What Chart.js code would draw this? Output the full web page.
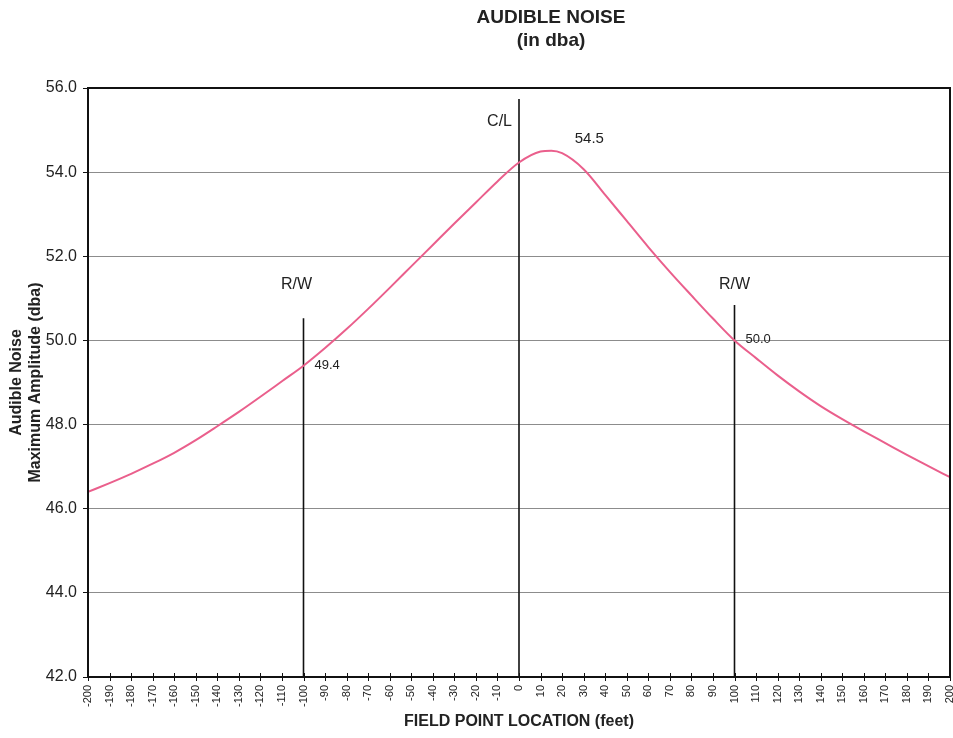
<!DOCTYPE html>
<html>
<head>
<meta charset="utf-8">
<script src="https://cdn.jsdelivr.net/npm/chart.js@4.4.0/dist/chart.umd.min.js"></script>
<style>
    body { margin: 0; background: #fff; }
    #grafico { display: block; }
</style>
</head>
<body>
<canvas id="grafico" width="953" height="738"></canvas>
<script>
    // pontos (pés, dba)
    const posicoes = [-200, -190, -180, -170, -160, -150, -140, -130, -120, -110, -100,
        -90, -80, -70, -60, -50, -40, -30, -20, -10, 0,
        10, 15, 20, 30, 40, 50, 60, 70, 80, 90, 100,
        110, 120, 130, 140, 150, 160, 170, 180, 190, 200];
    const ruido = [46.40, 46.61, 46.83, 47.07, 47.33, 47.63, 47.96, 48.30, 48.66, 49.03, 49.40,
        49.82, 50.27, 50.75, 51.25, 51.76, 52.27, 52.78, 53.28, 53.78, 54.23,
        54.49, 54.51, 54.45, 54.07, 53.46, 52.84, 52.22, 51.63, 51.07, 50.52, 50.00,
        49.58, 49.17, 48.79, 48.44, 48.13, 47.84, 47.56, 47.28, 47.01, 46.75];

    // linhas verticais (R/W e C/L)
    const linhasPos = [-100, 0, 100];
    const linhasTopo = [50.53, 55.74, 50.84];
    const linhasTexto = ['R/W', 'C/L', 'R/W'];

    // valores marcados na curva
    const marcasPos = [-100, 15, 100];
    const marcasValor = [49.4, 54.5, 50.0];
    const marcasTexto = ['49.4', '54.5', '50.0'];

    const titulo = ['AUDIBLE NOISE', '(in dba)'];
    const tituloY = ['Audible Noise', 'Maximum Amplitude (dba)'];
    const tituloX = 'FIELD POINT LOCATION (feet)';

    const corTexto = '#222';
    const fonte = '"Liberation Sans", Arial, sans-serif';

    let datasets = [{
        data: posicoes.map((x, i) => ({ x: x, y: ruido[i] })),
        borderColor: '#ea5f8c',
        borderWidth: 2,
        pointRadius: 0,
        cubicInterpolationMode: 'monotone',
        fill: false
    }];

    for (let i = 0; i < linhasPos.length; i++) {
        datasets.push({
            data: [{ x: linhasPos[i], y: 42 }, { x: linhasPos[i], y: linhasTopo[i] }],
            borderColor: '#111',
            borderWidth: 1.6,
            pointRadius: 0,
            fill: false
        });
    }

    // desenha titulos, rotulos girados do eixo x e anotacoes
    const textosExtras = {
        id: 'textosExtras',
        afterDraw(chart) {
            const ctx = chart.ctx;
            const area = chart.chartArea;
            const x = chart.scales.x;
            const y = chart.scales.y;

            ctx.save();

            // moldura
            ctx.strokeStyle = '#111';
            ctx.lineWidth = 2;
            ctx.strokeRect(area.left, area.top, area.right - area.left, area.bottom - area.top);

            // marcas do eixo x (cruzando o eixo)
            ctx.lineWidth = 1;
            x.ticks.forEach(t => {
                const px = Math.round(x.getPixelForValue(t.value)) + 0.5;
                ctx.beginPath();
                ctx.moveTo(px, area.bottom - 4);
                ctx.lineTo(px, area.bottom + 4);
                ctx.stroke();
            });

            ctx.fillStyle = corTexto;

            // rotulos do eixo x
            ctx.font = '11px ' + fonte;
            ctx.textAlign = 'right';
            ctx.textBaseline = 'middle';
            x.ticks.forEach(t => {
                const px = x.getPixelForValue(t.value);
                ctx.save();
                ctx.translate(px, area.bottom + 8);
                ctx.rotate(-Math.PI / 2);
                ctx.fillText(String(t.value), 0, 0);
                ctx.restore();
            });

            // titulo
            ctx.textAlign = 'center';
            ctx.font = 'bold 19px ' + fonte;
            ctx.fillText(titulo[0], 551, 18);
            ctx.fillText(titulo[1], 551, 41);

            // titulo eixo x
            ctx.font = 'bold 16px ' + fonte;
            ctx.fillText(tituloX, (area.left + area.right) / 2, 722);

            // titulo eixo y
            ctx.save();
            ctx.translate(17, (area.top + area.bottom) / 2);
            ctx.rotate(-Math.PI / 2);
            ctx.fillText(tituloY[0], 0, 0);
            ctx.fillText(tituloY[1], 0, 19);
            ctx.restore();

            // rotulos das linhas verticais
            const desloc = [[-7, -34, 'center'], [-7, 23, 'right'], [0, -20, 'center']];
            ctx.font = '16px ' + fonte;
            for (let i = 0; i < linhasPos.length; i++) {
                ctx.textAlign = desloc[i][2];
                ctx.fillText(linhasTexto[i],
                    x.getPixelForValue(linhasPos[i]) + desloc[i][0],
                    y.getPixelForValue(linhasTopo[i]) + desloc[i][1]);
            }

            // valores na curva
            const deslocMarca = [[11, 0, 'left', 13], [38, -12, 'center', 15], [11, -1, 'left', 13]];
            for (let i = 0; i < marcasPos.length; i++) {
                ctx.textAlign = deslocMarca[i][2];
                ctx.font = deslocMarca[i][3] + 'px ' + fonte;
                ctx.fillText(marcasTexto[i],
                    x.getPixelForValue(marcasPos[i]) + deslocMarca[i][0],
                    y.getPixelForValue(marcasValor[i]) + deslocMarca[i][1]);
            }

            ctx.restore();
        }
    };

    const config = {
        type: 'line',
        data: { datasets: datasets },
        options: {
            responsive: false,
            animation: false,
            layout: { padding: { top: 88, right: 3, left: 0, bottom: 0 } },
            plugins: {
                legend: { display: false },
                tooltip: { enabled: false }
            },
            scales: {
                x: {
                    type: 'linear',
                    min: -200,
                    max: 200,
                    ticks: { stepSize: 10, display: false },
                    grid: { display: false },
                    border: { color: '#111', width: 2 },
                    afterFit: function (scale) { scale.height = 61; }
                },
                y: {
                    min: 42,
                    max: 56,
                    ticks: {
                        stepSize: 2,
                        color: corTexto,
                        padding: 6,
                        font: { family: fonte, size: 16 },
                        callback: v => v.toFixed(1)
                    },
                    grid: { color: '#8c8c8c', lineWidth: 1, tickLength: 5, tickColor: '#111' },
                    border: { color: '#111', width: 2 },
                    afterFit: function (scale) { scale.width = 88; }
                }
            }
        },
        plugins: [textosExtras]
    };

    let myChart = new Chart(document.getElementById('grafico'), config);
</script>
</body>
</html>
